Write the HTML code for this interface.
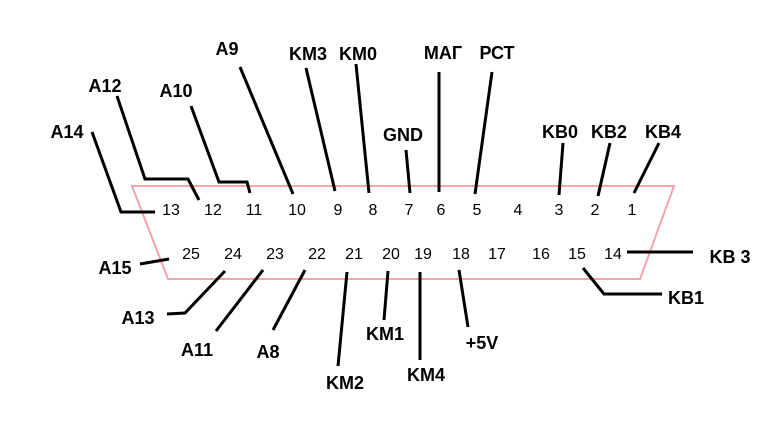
<!DOCTYPE html>
<html><head><meta charset="utf-8"><style>body{margin:0;background:#fff}svg{display:block}</style></head><body>
<svg width="779" height="447" viewBox="0 0 779 447" xmlns="http://www.w3.org/2000/svg">
<rect width="779" height="447" fill="#fff"/>
<polygon points="132,186 674,186 640,279 168,279" fill="none" stroke="#f4a4ac" stroke-width="2"/>
<g font-family="Liberation Sans, Arial, sans-serif" font-size="16" fill="#000" text-anchor="middle">
<text x="171" y="215">13</text><text x="213" y="215">12</text><text x="254" y="215">11</text><text x="297" y="215">10</text><text x="338" y="215">9</text><text x="373" y="215">8</text><text x="409" y="215">7</text><text x="441" y="215">6</text><text x="477" y="215">5</text><text x="518" y="215">4</text><text x="559" y="215">3</text><text x="595" y="215">2</text><text x="632" y="215">1</text>
<text x="191" y="259">25</text><text x="233" y="259">24</text><text x="275" y="259">23</text><text x="317" y="259">22</text><text x="354" y="259">21</text><text x="391" y="259">20</text><text x="423" y="259">19</text><text x="461" y="259">18</text><text x="497" y="259">17</text><text x="541" y="259">16</text><text x="577" y="259">15</text><text x="613" y="259">14</text>
</g>
<g font-family="Liberation Sans, Arial, sans-serif" font-size="18" font-weight="bold" fill="#000" text-anchor="middle">
<text x="67" y="138">A14</text><text x="105" y="92">A12</text><text x="176" y="97">A10</text><text x="227" y="55">A9</text><text x="308" y="60">KM3</text><text x="358" y="60">KM0</text><text x="403" y="141">GND</text><text x="443" y="59">МАГ</text><text x="497" y="59">РСТ</text><text x="560" y="138">KB0</text><text x="609" y="138">KB2</text><text x="663" y="138">KB4</text><text x="730" y="263">KB 3</text><text x="686" y="304">KB1</text><text x="115" y="274">A15</text><text x="138" y="324">A13</text><text x="197" y="356">A11</text><text x="268" y="358">A8</text><text x="345" y="389">KM2</text><text x="385" y="340">KM1</text><text x="426" y="381">KM4</text><text x="482" y="349">+5V</text>
</g>
<g fill="none" stroke="#000" stroke-width="3">
<polyline points="92,132 121,212 155,212"/>
<polyline points="117,96 145,179 188,179 199,200"/>
<polyline points="191,106 219,182 247,182 250,193"/>
<line x1="240" y1="67" x2="293" y2="194"/>
<line x1="306" y1="68" x2="335" y2="191"/>
<line x1="356" y1="64" x2="369" y2="193"/>
<line x1="406" y1="150" x2="410" y2="193"/>
<line x1="439" y1="72" x2="439" y2="192"/>
<line x1="492" y1="72" x2="475" y2="194"/>
<line x1="563" y1="143" x2="559" y2="195"/>
<line x1="610" y1="143" x2="598" y2="196"/>
<line x1="659" y1="143" x2="634" y2="193"/>
<line x1="627" y1="252" x2="693" y2="252"/>
<polyline points="583,268 604,294 662,294"/>
<line x1="140" y1="264" x2="169" y2="259"/>
<polyline points="167,314 185,313 225,271"/>
<line x1="216" y1="331" x2="263" y2="270"/>
<line x1="273" y1="330" x2="305" y2="270"/>
<line x1="338" y1="366" x2="347" y2="272"/>
<line x1="384" y1="320" x2="388" y2="271"/>
<line x1="420" y1="360" x2="420" y2="272"/>
<line x1="459" y1="270" x2="468" y2="327"/>
</g>
</svg>
</body></html>
